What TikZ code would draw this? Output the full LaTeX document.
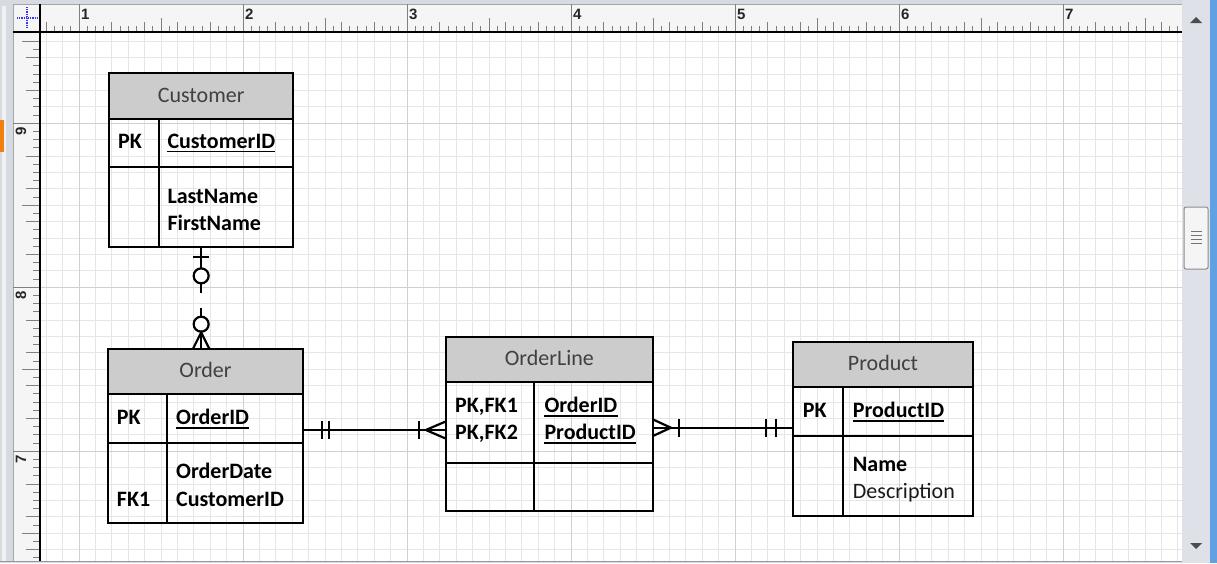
\documentclass[tikz,border=0pt]{standalone}
\usepackage{fontspec}
\setmainfont{Carlito}
\newfontfamily\rulerfont{Liberation Sans}
\usetikzlibrary{calc,fit}
\definecolor{hdrgray}{RGB}{204,204,204}
\definecolor{gridminor}{RGB}{230,230,230}
\definecolor{gridmajor}{RGB}{208,208,208}
\definecolor{rulerbg}{RGB}{245,245,245}
\definecolor{framegray}{RGB}{214,219,226}
\definecolor{scrollbg}{RGB}{222,226,232}
\definecolor{winblue}{RGB}{98,160,228}
\definecolor{titlecol}{RGB}{64,64,64}
\definecolor{tickcol}{RGB}{128,128,128}
\tikzset{
  boxline/.style={line width=1.7pt, black},
  tblnode/.style={draw, line width=1.7pt, inner sep=0pt, fill=none},
  ttl/.style={anchor=base, inner sep=0pt, font=\fontsize{22}{26}\selectfont, text=titlecol},
  key/.style={anchor=base west, inner sep=0pt, font=\fontsize{22}{26}\selectfont\bfseries},
  fld/.style={anchor=base west, inner sep=0pt, font=\fontsize{22}{26}\selectfont\bfseries},
  fldreg/.style={anchor=base west, inner sep=0pt, font=\fontsize{22}{26}\selectfont, text=black!90},
  ul/.style={line width=1.5pt},
  conn/.style={line width=2.2pt, black},
  tick/.style={line width=1pt, tickcol},
  rnum/.style={inner sep=0pt, font=\rulerfont\bfseries\fontsize{15}{17}\selectfont, text=black!85},
}
\newcommand\ertab[8]{%
  \fill[hdrgray] (#2,#3) rectangle (#4,#6);
  \draw[boxline] (#2,#6) -- (#4,#6) (#2,#7) -- (#4,#7) (#8,#6) -- (#8,#5);
  \node[tblnode, fit={(#2,#3) (#4,#5)}] (#1) {};
}
\begin{document}
\begin{tikzpicture}[x=1pt,y=-1pt]
\useasboundingbox (0,0) rectangle (1217,563);
% window frame
\fill[framegray] (0,0) rectangle (1217,563);
\fill[white!60!framegray] (2,6) rectangle (6,561);
\fill[orange!80!brown] (0,120) rectangle (4,152);
% scrollbar
\fill[scrollbg] (1182,0) rectangle (1210,563);
\fill[winblue] (1210,0) rectangle (1217,563);
\fill[black!70] (1190,23) -- (1202,23) -- (1196,17) -- cycle;
\fill[black!70] (1190,543) -- (1202,543) -- (1196,549) -- cycle;
\draw[black!45, fill=black!4, line width=1pt, rounded corners=2pt] (1184,207) rectangle (1208,269);
\foreach \yy in {231.5,235.5,239.5,243.5} \draw[black!55, line width=1pt] (1191,\yy) -- (1202,\yy);
% rulers
\fill[rulerbg] (13,4) rectangle (1182,32);
\fill[rulerbg] (13,32) rectangle (40,561);
\draw[black!35, line width=0.8pt] (13,4) -- (1182,4) (13,4) -- (13,561);
\draw[blue!80, densely dotted, line width=1.2pt] (17,18) -- (37,18) (27,7) -- (27,29);
% canvas
\fill[white] (40,32) rectangle (1182,561);
\foreach \k in {-2,...,67}{
  \pgfmathsetmacro\gx{79+16.4*\k}
  \draw[gridminor, line width=1pt] (\gx,32) -- (\gx,561);
}
\foreach \k in {-5,...,26}{
  \pgfmathsetmacro\gy{123.3+16.4*\k}
  \draw[gridminor, line width=1pt] (40,\gy) -- (1182,\gy);
}
\foreach \k in {0,10,...,60}{
  \pgfmathsetmacro\gx{79+16.4*\k}
  \draw[gridmajor, line width=1pt] (\gx,32) -- (\gx,561);
}
\foreach \k in {0,10,20}{
  \pgfmathsetmacro\gy{123.3+16.4*\k}
  \draw[gridmajor, line width=1pt] (40,\gy) -- (1182,\gy);
}
% top ruler ticks
\foreach \k in {-4,...,134}{
  \pgfmathsetmacro\tx{79+8.2*\k}
  \pgfmathtruncatemacro\ma{mod(\k+200,20)}
  \pgfmathtruncatemacro\mb{mod(\k+200,10)}
  \pgfmathtruncatemacro\mc{mod(\k+200,4)}
  \ifnum\ma=0 \def\tl{28}\else\ifnum\mb=0 \def\tl{14}\else\ifnum\mc=0 \def\tl{10}\else\def\tl{6}\fi\fi\fi
  \draw[tick] (\tx,32) -- (\tx,32-\tl);
}
\foreach \n in {1,...,7}{
  \node[rnum, anchor=base west] at ({79+164*(\n-1)+2},19) {\n};
}
% left ruler ticks
\foreach \k in {-10,...,53}{
  \pgfmathsetmacro\ty{123.3+8.2*\k}
  \pgfmathtruncatemacro\ma{mod(\k+200,20)}
  \pgfmathtruncatemacro\mb{mod(\k+200,10)}
  \pgfmathtruncatemacro\mc{mod(\k+200,4)}
  \ifnum\ma=0 \def\tl{27}\else\ifnum\mb=0 \def\tl{18}\else\ifnum\mc=0 \def\tl{14}\else\def\tl{7}\fi\fi\fi
  \draw[tick] (40,\ty) -- (40-\tl,\ty);
}
\node[rnum, rotate=90] at (21,131) {9};
\node[rnum, rotate=90] at (21,295) {8};
\node[rnum, rotate=90] at (21,459) {7};
\draw[black, line width=1.5pt] (13,32) -- (1182,32) (40,4) -- (40,561);
\draw[black!40, line width=1pt] (0,561.5) -- (1182,561.5);

% ---------------- tables ----------------
\ertab{cust}{109}{73.3}{293.3}{247.3}{119.3}{166.7}{158.7}
\node[ttl] (custT) at (201.15,102.7) {Customer};
\node[key] (custPK) at (118,148) {PK};
\node[fld] (custID) at (167.3,148) {CustomerID};
\draw[ul] ([yshift=-3.5pt]custID.base west) -- ([yshift=-3.5pt]custID.base east);
\node[fld] (custLN) at (167.3,203) {LastName};
\node[fld] (custFN) at (167.3,230.4) {FirstName};

\ertab{ord}{107.7}{349.3}{303.3}{522.7}{394}{443.3}{167}
\node[ttl] (ordT) at (205.5,377.7) {Order};
\node[key] (ordPK) at (116.7,424.7) {PK};
\node[fld] (ordID) at (176,424.7) {OrderID};
\draw[ul] ([yshift=-3.5pt]ordID.base west) -- ([yshift=-3.5pt]ordID.base east);
\node[fld] (ordDate) at (176,478.7) {OrderDate};
\node[key] (ordFK) at (116.7,506) {FK1};
\node[fld] (ordCust) at (176,506) {CustomerID};

\ertab{ol}{446}{336.7}{652.7}{510.7}{382.3}{462.7}{534.3}
\node[ttl] (olT) at (549.35,365.7) {OrderLine};
\node[key] (olK1) at (455,412.4) {PK,FK1};
\node[key] (olK2) at (455,439.4) {PK,FK2};
\node[fld] (olO) at (544.3,412.4) {OrderID};
\node[fld] (olP) at (544.3,439.4) {ProductID};
\draw[ul] ([yshift=-3.5pt]olO.base west) -- ([yshift=-3.5pt]olO.base east);
\draw[ul] ([yshift=-3.5pt]olP.base west) -- ([yshift=-3.5pt]olP.base east);

\ertab{prod}{792.7}{341.7}{973.3}{515.7}{387.3}{436}{843.3}
\node[ttl] (prodT) at (883,370) {Product};
\node[key] (prodPK) at (802.7,417.4) {PK};
\node[fld] (prodID) at (852.7,417.4) {ProductID};
\draw[ul] ([yshift=-3.5pt]prodID.base west) -- ([yshift=-3.5pt]prodID.base east);
\node[fld] (prodN) at (852.7,471.7) {Name};
\node[fldreg] (prodD) at (852.7,498.4) {Description};

% ---------------- relationships ----------------
% Customer -- Order (zero-or-one to zero-or-many, dashed)
\coordinate (oc) at (cust.south |- ord.north);
\draw[conn, dash pattern=on 44.7pt off 15pt on 300pt] (cust.south) -- (oc);
\draw[conn] ($(cust.south)+(-8,8.7)$) -- ($(cust.south)+(8,8.7)$);
\draw[conn, fill=white] ($(cust.south)+(0,27.7)$) circle[radius=7.5pt];
\draw[conn, fill=white] ($(oc)+(0,-24.3)$) circle[radius=7.5pt];
\draw[conn] ($(oc)+(-8,0)$) -- ($(oc)+(0,-16)$) -- ($(oc)+(8,0)$);

% Order -- OrderLine
\coordinate (y1) at (0,430);
\coordinate (p1) at (ord.east |- y1);
\coordinate (p2) at (ol.west |- y1);
\draw[conn] (p1) -- (p2);
\draw[conn] ($(p1)+(17.7,-9)$) -- ($(p1)+(17.7,9)$);
\draw[conn] ($(p1)+(25,-9)$) -- ($(p1)+(25,9)$);
\draw[conn] ($(p2)+(-26,-9)$) -- ($(p2)+(-26,9)$);
\draw[conn] ($(p2)+(0,-8.3)$) -- ($(p2)+(-19.3,0)$) -- ($(p2)+(0,8.3)$);

% OrderLine -- Product
\coordinate (y2) at (0,427.7);
\coordinate (p3) at (ol.east |- y2);
\coordinate (p4) at (prod.west |- y2);
\draw[conn] (p3) -- (p4);
\draw[conn] ($(p3)+(0,-8)$) -- ($(p3)+(17.3,0)$) -- ($(p3)+(0,8)$);
\draw[conn] ($(p3)+(25.6,-9)$) -- ($(p3)+(25.6,9)$);
\draw[conn] ($(p4)+(-26,-9)$) -- ($(p4)+(-26,9)$);
\draw[conn] ($(p4)+(-16,-9)$) -- ($(p4)+(-16,9)$);
\end{tikzpicture}
\end{document}
